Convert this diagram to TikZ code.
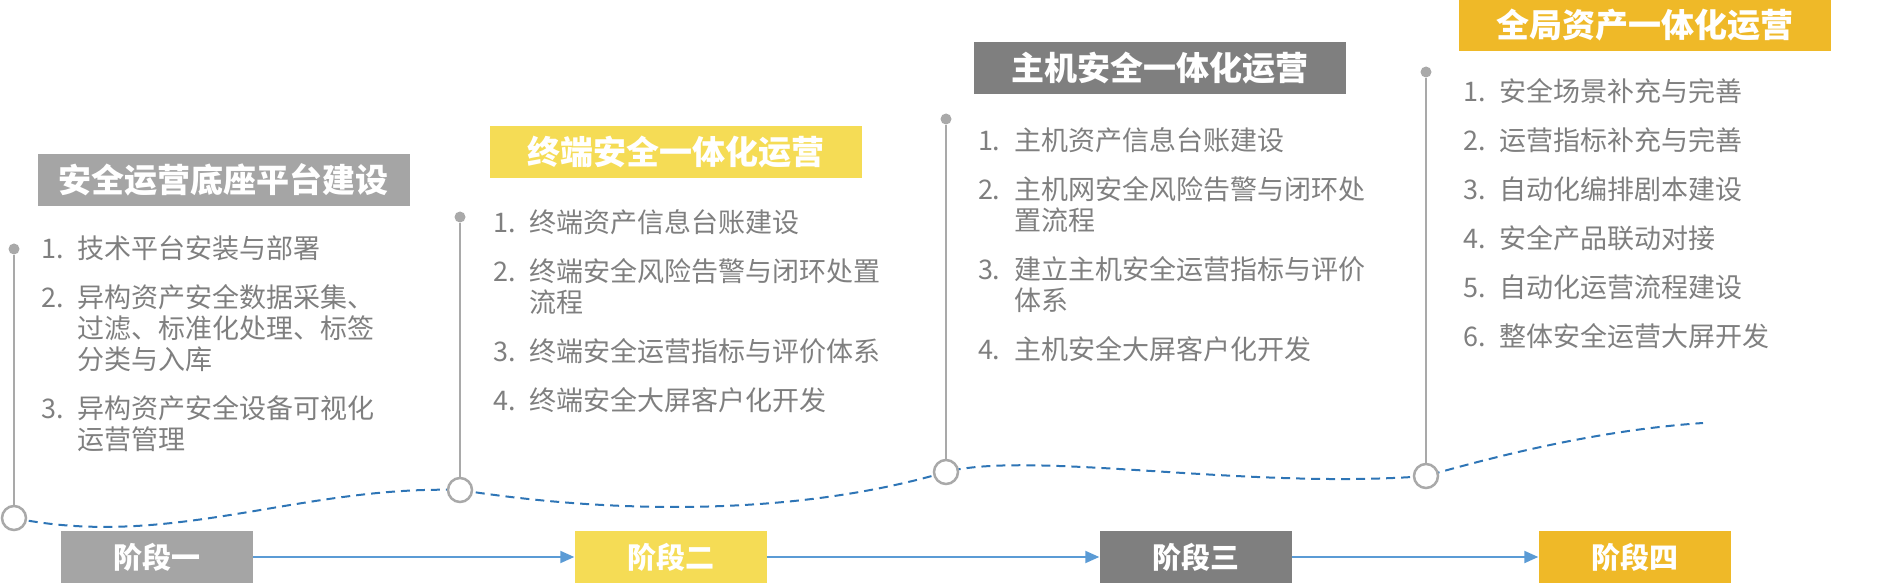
\documentclass[tikz,border=0pt]{standalone}
\usepackage{fontspec}
\setmainfont{Noto Sans CJK SC}
\usetikzlibrary{positioning, arrows.meta}
\definecolor{plainGray}{HTML}{A5A5A5}
\definecolor{lightGold}{HTML}{F5DC55}
\definecolor{darkGray}{HTML}{7F7F7F}
\definecolor{deepGold}{HTML}{EFB928}
\definecolor{txtGray}{HTML}{7F7F7F}
\definecolor{stemGray}{HTML}{A9A9A9}
\definecolor{waveBlue}{HTML}{2E75B6}
\definecolor{flowBlue}{HTML}{5B9BD5}
\newcommand\phaseitem[2]{\hangindent=36pt\hangafter=1\noindent\makebox[36pt][l]{#1}#2\par}
\newcommand\itemgap{\vspace{18pt}}
\tikzset{
  phasebox/.style={fill=#1, text=white, inner sep=0pt, minimum width=372pt, minimum height=52pt,
    font=\fontsize{33pt}{38pt}\selectfont\bfseries},
  stagebox/.style={fill=#1, text=white, inner sep=0pt, minimum width=192pt, minimum height=52pt,
    font=\fontsize{29pt}{34pt}\selectfont\bfseries},
  tasklist/.style={text=txtGray, inner sep=0pt, text width=420pt, align=left, xshift=4pt,
    font=\fontsize{27pt}{31pt}\selectfont},
  dot/.style={circle, fill=stemGray, inner sep=0pt, minimum size=11pt},
  ring/.style={circle, draw=stemGray, fill=white, line width=2.5pt, inner sep=0pt, minimum size=24pt},
  stem/.style={draw=stemGray, line width=2pt},
  wave/.style={draw=waveBlue, line width=2pt, dash pattern=on 9pt off 6pt},
  flow/.style={draw=flowBlue, line width=2pt, -{Triangle[length=14pt, width=12pt]}}
}
\begin{document}
\begin{tikzpicture}[x=1pt, y=-1pt]
  \useasboundingbox (0,0) rectangle (1880,585);
  % timeline
  \coordinate (m1) at (14,518);
  \coordinate (m2) at (460,490);
  \coordinate (m3) at (946,472);
  \coordinate (m4) at (1426,476);
  \coordinate (mend) at (1703,423);
  \draw[wave] (m1) .. controls (170,550) and (300,485) .. (m2)
    .. controls (620,515) and (800,515) .. (m3)
    .. controls (1030,450) and (1250,490) .. (m4)
    .. controls (1500,455) and (1600,430) .. (mend);
  \foreach \i/\y in {1/249, 2/217, 3/119, 4/72} {
    \node[ring] (r\i) at (m\i) {};
    \node[dot] (d\i) at (m\i |- 0,\y) {};
    \draw[stem] (d\i) -- (r\i);
  }

  % phases
  \node[phasebox=plainGray] (t1) at (223.5,180) {安全运营底座平台建设};
  \node[tasklist, below=29pt of t1.south west, anchor=north west] (l1) {%
    \phaseitem{1.}{技术平台安装与部署}\itemgap
    \phaseitem{2.}{异构资产安全数据采集、\newline 过滤、标准化处理、标签\newline 分类与入库}\itemgap
    \phaseitem{3.}{异构资产安全设备可视化\newline 运营管理}};

  \node[phasebox=lightGold] (t2) at (675.5,152) {终端安全一体化运营};
  \node[tasklist, below=31pt of t2.south west, anchor=north west] (l2) {%
    \phaseitem{1.}{终端资产信息台账建设}\itemgap
    \phaseitem{2.}{终端安全风险告警与闭环处置\newline 流程}\itemgap
    \phaseitem{3.}{终端安全运营指标与评价体系}\itemgap
    \phaseitem{4.}{终端安全大屏客户化开发}};

  \node[phasebox=darkGray] (t3) at (1160,68) {主机安全一体化运营};
  \node[tasklist, below=33pt of t3.south west, anchor=north west] (l3) {%
    \phaseitem{1.}{主机资产信息台账建设}\itemgap
    \phaseitem{2.}{主机网安全风险告警与闭环处\newline 置流程}\itemgap
    \phaseitem{3.}{建立主机安全运营指标与评价\newline 体系}\itemgap
    \phaseitem{4.}{主机安全大屏客户化开发}};

  \node[phasebox=deepGold] (t4) at (1645,25) {全局资产一体化运营};
  \node[tasklist, below=27pt of t4.south west, anchor=north west] (l4) {%
    \phaseitem{1.}{安全场景补充与完善}\itemgap
    \phaseitem{2.}{运营指标补充与完善}\itemgap
    \phaseitem{3.}{自动化编排剧本建设}\itemgap
    \phaseitem{4.}{安全产品联动对接}\itemgap
    \phaseitem{5.}{自动化运营流程建设}\itemgap
    \phaseitem{6.}{整体安全运营大屏开发}};

  % stages
  \node[stagebox=plainGray] (s1) at (157,557) {阶段一};
  \node[stagebox=lightGold] (s2) at (670.5,557) {阶段二};
  \node[stagebox=darkGray]  (s3) at (1195.5,557) {阶段三};
  \node[stagebox=deepGold]  (s4) at (1634.5,557) {阶段四};
  \draw[flow] (s1) -- (s2);
  \draw[flow] (s2) -- (s3);
  \draw[flow] (s3) -- (s4);
\end{tikzpicture}
\end{document}
